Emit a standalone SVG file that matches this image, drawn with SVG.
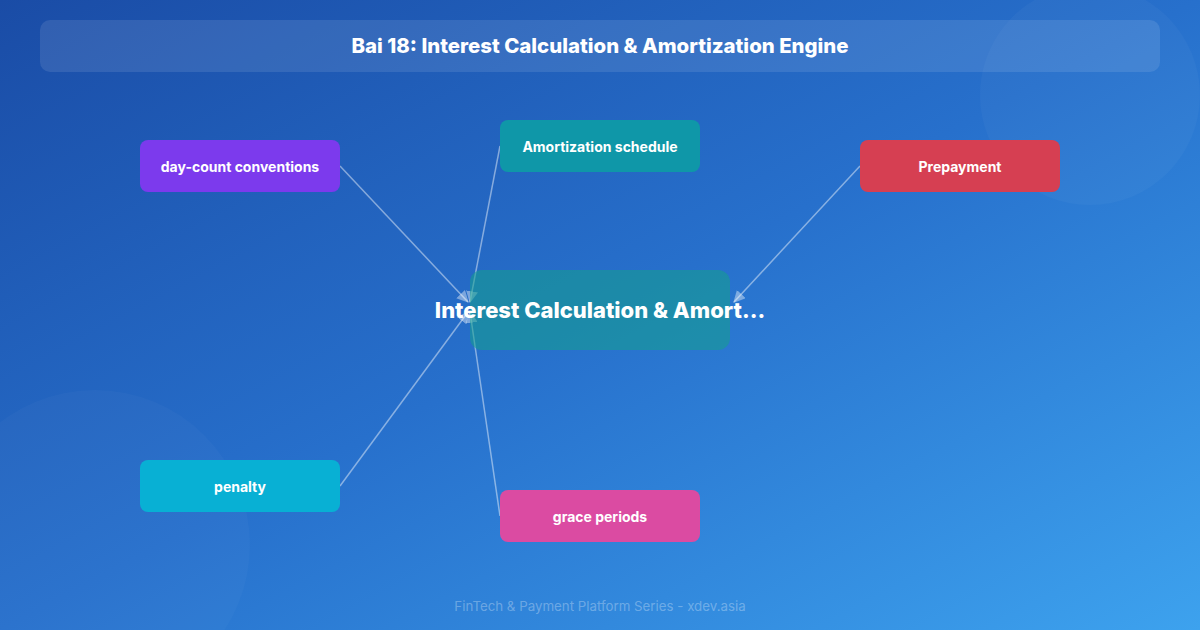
<svg xmlns="http://www.w3.org/2000/svg" width="1200" height="630" viewBox="0 0 1200 630">
<defs>
<linearGradient id="bg" x1="0" y1="0" x2="1" y2="1">
<stop offset="0" stop-color="#1a4ca6"/>
<stop offset="0.5" stop-color="#2770cc"/>
<stop offset="1" stop-color="#3da2ee"/>
</linearGradient>
<marker id="ah" viewBox="0 0 10 10" refX="9" refY="5" markerWidth="12" markerHeight="12" orient="auto" markerUnits="userSpaceOnUse">
<path d="M0,0 L10,5 L0,10 z" fill="#ffffff" fill-opacity="0.4"/>
</marker>
<style>
.node text{font-family:Inter,"Liberation Sans",sans-serif;font-weight:700;font-size:14px;fill:#ffffff;text-anchor:middle;dominant-baseline:central}
.conn line{stroke:#ffffff;stroke-opacity:0.45;stroke-width:1.5;marker-end:url(#ah)}
</style>
</defs>
<rect width="1200" height="630" fill="url(#bg)"/>
<circle cx="1090" cy="95" r="110" fill="#ffffff" fill-opacity="0.03"/>
<circle cx="95" cy="545" r="155" fill="#ffffff" fill-opacity="0.025"/>
<g id="title">
<rect x="40" y="20" width="1120" height="52" rx="10" fill="#ffffff" fill-opacity="0.1"/>
<text x="600" y="45" font-family="Inter,'Liberation Sans',sans-serif" font-weight="800" font-size="20.4" fill="#ffffff" text-anchor="middle" dominant-baseline="central">Bai 18: Interest Calculation &amp; Amortization Engine</text>
</g>
<g id="connectors" class="conn">
<line x1="340" y1="166" x2="468" y2="302"/>
<line x1="500" y1="146" x2="470" y2="302"/>
<line x1="860" y1="166" x2="734" y2="302"/>
<line x1="340" y1="486" x2="468" y2="312"/>
<line x1="500" y1="516" x2="470" y2="312"/>
</g>
<g id="center" class="node">
<rect x="470" y="270" width="260" height="80" rx="12" fill="#14a08c" fill-opacity="0.55"/>
<text x="600" y="310" style="font-size:22px;font-weight:800">Interest Calculation &amp; Amort...</text>
</g>
<g id="daycount" class="node">
<rect x="140" y="140" width="200" height="52" rx="8" fill="#7c3aed"/>
<text x="240" y="166">day-count conventions</text>
</g>
<g id="amortization" class="node">
<rect x="500" y="120" width="200" height="52" rx="8" fill="#0f97a8"/>
<text x="600" y="146">Amortization schedule</text>
</g>
<g id="prepayment" class="node">
<rect x="860" y="140" width="200" height="52" rx="8" fill="#d63f52"/>
<text x="960" y="166">Prepayment</text>
</g>
<g id="penalty" class="node">
<rect x="140" y="460" width="200" height="52" rx="8" fill="#08b0d4"/>
<text x="240" y="486">penalty</text>
</g>
<g id="grace" class="node">
<rect x="500" y="490" width="200" height="52" rx="8" fill="#db4ba2"/>
<text x="600" y="516">grace periods</text>
</g>
<text x="600" y="606" font-family="Inter,'Liberation Sans',sans-serif" font-size="13.3" fill="#ffffff" fill-opacity="0.3" text-anchor="middle" dominant-baseline="central">FinTech &amp; Payment Platform Series - xdev.asia</text>
</svg>
